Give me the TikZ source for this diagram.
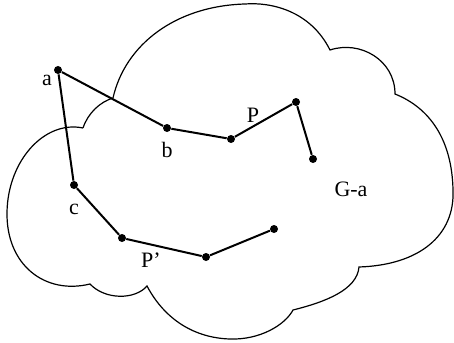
\documentclass[tikz,border=0pt]{standalone}
\usepackage{fontspec}
\setmainfont{Liberation Serif}
\usetikzlibrary{positioning}

\begin{document}
\begin{tikzpicture}[
    x=0.5pt, y=-0.5pt,
    dot/.style={
        circle,
        fill=black,
        inner sep=0pt,
        minimum size=4pt
    },
    edge/.style={
        line width=1pt,
        black
    },
    cloud/.style={
        line width=0.6pt,
        black
    },
    lbl/.style={
        font=\fontsize{11}{13}\selectfont,
        inner sep=1pt
    }
]

\useasboundingbox (0,0) rectangle (454,342);

% Graph G-a (cloud outline)
\draw[cloud] (83,128)
    .. controls (45,120) and (8,160) .. (7,212)
    .. controls (6,265) and (45,295) .. (90,284)
    .. controls (105,300) and (135,300) .. (147,286)
    .. controls (165,320) and (195,338) .. (230,339)
    .. controls (260,340) and (285,325) .. (293,310)
    .. controls (325,302) and (357,290) .. (359,267)
    .. controls (420,265) and (455,235) .. (453,190)
    .. controls (452,140) and (430,108) .. (395,94)
    .. controls (395,60) and (360,40) .. (330,50)
    .. controls (310,10) and (270,2) .. (245,4)
    .. controls (175,6) and (125,45) .. (113,98)
    .. controls (100,102) and (88,113) .. (83,128);

% Vertices
\node[dot] (a) at (58,70) {};
\node[dot] (b) at (167,128) {};
\node[dot] (p1) at (231,139) {};
\node[dot] (p2) at (296,102) {};
\node[dot] (p3) at (313,159) {};
\node[dot] (c) at (74,185) {};
\node[dot] (q1) at (122,238) {};
\node[dot] (q2) at (206,257) {};
\node[dot] (q3) at (274,229) {};

% Path P
\draw[edge] (a) -- (b);
\draw[edge] (b) -- (p1);
\draw[edge] (p1) -- (p2);
\draw[edge] (p2) -- (p3);

% Path P'
\draw[edge] (a) -- (c);
\draw[edge] (c) -- (q1);
\draw[edge] (q1) -- (q2);
\draw[edge] (q2) -- (q3);

% Labels
\node[lbl] (la) at (47,80) {a};
\node[lbl] (lb) at (167,150) {b};
\node[lbl] (lc) at (74,209) {c};
\node[lbl] (lp) at (253,115) {P};
\node[lbl] (lq) at (151,260) {P’};
\node[lbl] (lg) at (351,189) {G-a};

\end{tikzpicture}
\end{document}
